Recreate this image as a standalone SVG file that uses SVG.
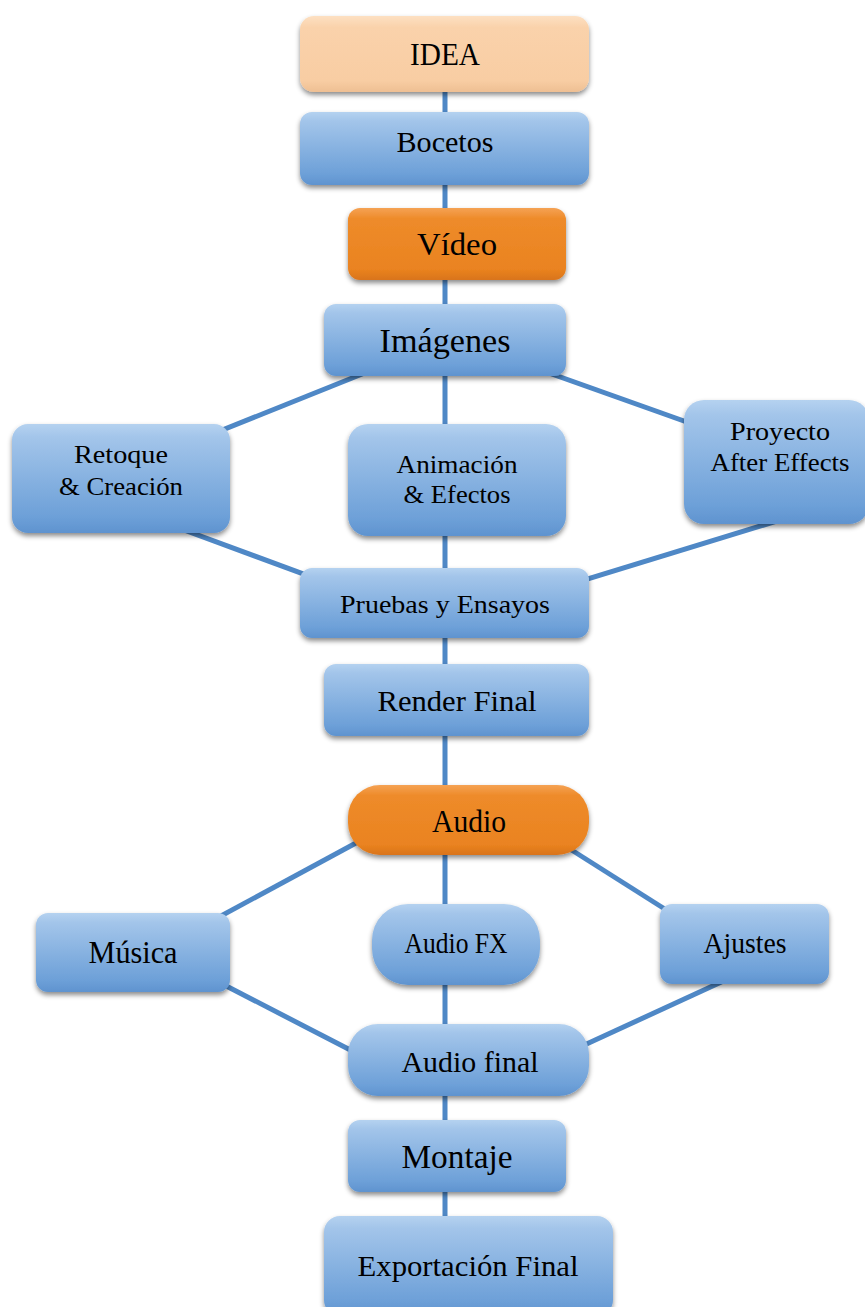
<svg xmlns="http://www.w3.org/2000/svg" width="865" height="1307" viewBox="0 0 865 1307">
<style>
.t{font-family:"Liberation Serif","DejaVu Serif",serif;fill:#000;text-anchor:middle}
.blue{fill:url(#gb);filter:url(#sh)}
.or{fill:url(#go);filter:url(#sh)}
.pe{fill:url(#gp);filter:url(#sh)}
.ln{stroke:#4f88c6;stroke-width:5;fill:none}
</style>
<defs>
<linearGradient id="gb" x1="0" y1="0" x2="0" y2="1">
<stop offset="0" stop-color="#b5d2f0"/><stop offset="0.12" stop-color="#a3c5ea"/><stop offset="0.85" stop-color="#6da0d8"/><stop offset="1" stop-color="#5f93cf"/>
</linearGradient>
<linearGradient id="go" x1="0" y1="0" x2="0" y2="1">
<stop offset="0" stop-color="#f5a254"/><stop offset="0.15" stop-color="#ee8b2a"/><stop offset="0.85" stop-color="#ea8320"/><stop offset="1" stop-color="#d9741a"/>
</linearGradient>
<linearGradient id="gp" x1="0" y1="0" x2="0" y2="1">
<stop offset="0" stop-color="#fde0c2"/><stop offset="0.15" stop-color="#fad2ab"/><stop offset="0.85" stop-color="#f8cda3"/><stop offset="1" stop-color="#eebf93"/>
</linearGradient>
<filter id="sh" x="-10%" y="-10%" width="120%" height="130%">
<feDropShadow dx="0" dy="3" stdDeviation="2.5" flood-color="#000" flood-opacity="0.45"/>
</filter>
</defs>
<g id="connectors">
<line class="ln" x1="445" y1="90" x2="445" y2="1295"/>
<line class="ln" x1="412" y1="354" x2="180" y2="447"/>
<line class="ln" x1="490" y1="352" x2="757" y2="447"/>
<line class="ln" x1="157" y1="520" x2="420" y2="617"/>
<line class="ln" x1="780" y1="520" x2="470" y2="615"/>
<line class="ln" x1="380" y1="830" x2="195" y2="930"/>
<line class="ln" x1="540" y1="830" x2="690" y2="925"/>
<line class="ln" x1="205" y1="975" x2="360" y2="1055"/>
<line class="ln" x1="730" y1="978" x2="530" y2="1070"/>
</g>
<g id="idea"><rect class="pe" x="300" y="16" width="289" height="76" rx="14"/><text class="t" x="445" y="65" font-size="32" textLength="70" lengthAdjust="spacingAndGlyphs">IDEA</text></g>
<g id="bocetos"><rect class="blue" x="300" y="112" width="289" height="73" rx="12"/><text class="t" x="445" y="152" font-size="30" textLength="97" lengthAdjust="spacingAndGlyphs">Bocetos</text></g>
<g id="video"><rect class="or" x="348" y="208" width="218" height="72" rx="12"/><text class="t" x="457" y="255" font-size="32" textLength="80" lengthAdjust="spacingAndGlyphs">Vídeo</text></g>
<g id="imagenes"><rect class="blue" x="324" y="304" width="242" height="72" rx="12"/><text class="t" x="445" y="352" font-size="34" textLength="131" lengthAdjust="spacingAndGlyphs">Imágenes</text></g>
<g id="retoque"><rect class="blue" x="12" y="424" width="218" height="109" rx="16"/><text class="t" x="121" y="463" font-size="26" textLength="94" lengthAdjust="spacingAndGlyphs">Retoque</text><text class="t" x="121" y="495" font-size="26" textLength="124" lengthAdjust="spacingAndGlyphs">&amp; Creación</text></g>
<g id="animacion"><rect class="blue" x="348" y="424" width="218" height="112" rx="20"/><text class="t" x="457" y="473" font-size="26" textLength="121" lengthAdjust="spacingAndGlyphs">Animación</text><text class="t" x="457" y="503" font-size="26" textLength="107" lengthAdjust="spacingAndGlyphs">&amp; Efectos</text></g>
<g id="proyecto"><rect class="blue" x="684" y="400" width="185" height="124" rx="20"/><text class="t" x="780" y="440" font-size="26" textLength="100" lengthAdjust="spacingAndGlyphs">Proyecto</text><text class="t" x="780" y="471" font-size="26" textLength="139" lengthAdjust="spacingAndGlyphs">After Effects</text></g>
<g id="pruebas"><rect class="blue" x="300" y="568" width="289" height="70" rx="12"/><text class="t" x="445" y="613" font-size="26" textLength="210" lengthAdjust="spacingAndGlyphs">Pruebas y Ensayos</text></g>
<g id="render"><rect class="blue" x="324" y="664" width="265" height="72" rx="12"/><text class="t" x="457" y="711" font-size="30" textLength="159" lengthAdjust="spacingAndGlyphs">Render Final</text></g>
<g id="audio"><rect class="or" x="348" y="785" width="241" height="70" rx="32"/><text class="t" x="469" y="832" font-size="32" textLength="74" lengthAdjust="spacingAndGlyphs">Audio</text></g>
<g id="musica"><rect class="blue" x="36" y="913" width="194" height="79" rx="12"/><text class="t" x="133" y="963" font-size="31" textLength="89" lengthAdjust="spacingAndGlyphs">Música</text></g>
<g id="audiofx"><rect class="blue" x="372" y="904" width="168" height="81" rx="36"/><text class="t" x="456" y="953" font-size="29" textLength="103" lengthAdjust="spacingAndGlyphs">Audio FX</text></g>
<g id="ajustes"><rect class="blue" x="660" y="904" width="169" height="80" rx="12"/><text class="t" x="745" y="953" font-size="29" textLength="83" lengthAdjust="spacingAndGlyphs">Ajustes</text></g>
<g id="audiofinal"><rect class="blue" x="348" y="1024" width="241" height="72" rx="30"/><text class="t" x="470" y="1072" font-size="30" textLength="137" lengthAdjust="spacingAndGlyphs">Audio final</text></g>
<g id="montaje"><rect class="blue" x="348" y="1120" width="218" height="72" rx="12"/><text class="t" x="457" y="1168" font-size="34" textLength="111" lengthAdjust="spacingAndGlyphs">Montaje</text></g>
<g id="exportacion"><rect class="blue" x="324" y="1216" width="289" height="100" rx="16"/><text class="t" x="468" y="1276" font-size="30" textLength="221" lengthAdjust="spacingAndGlyphs">Exportación Final</text></g>
</svg>
